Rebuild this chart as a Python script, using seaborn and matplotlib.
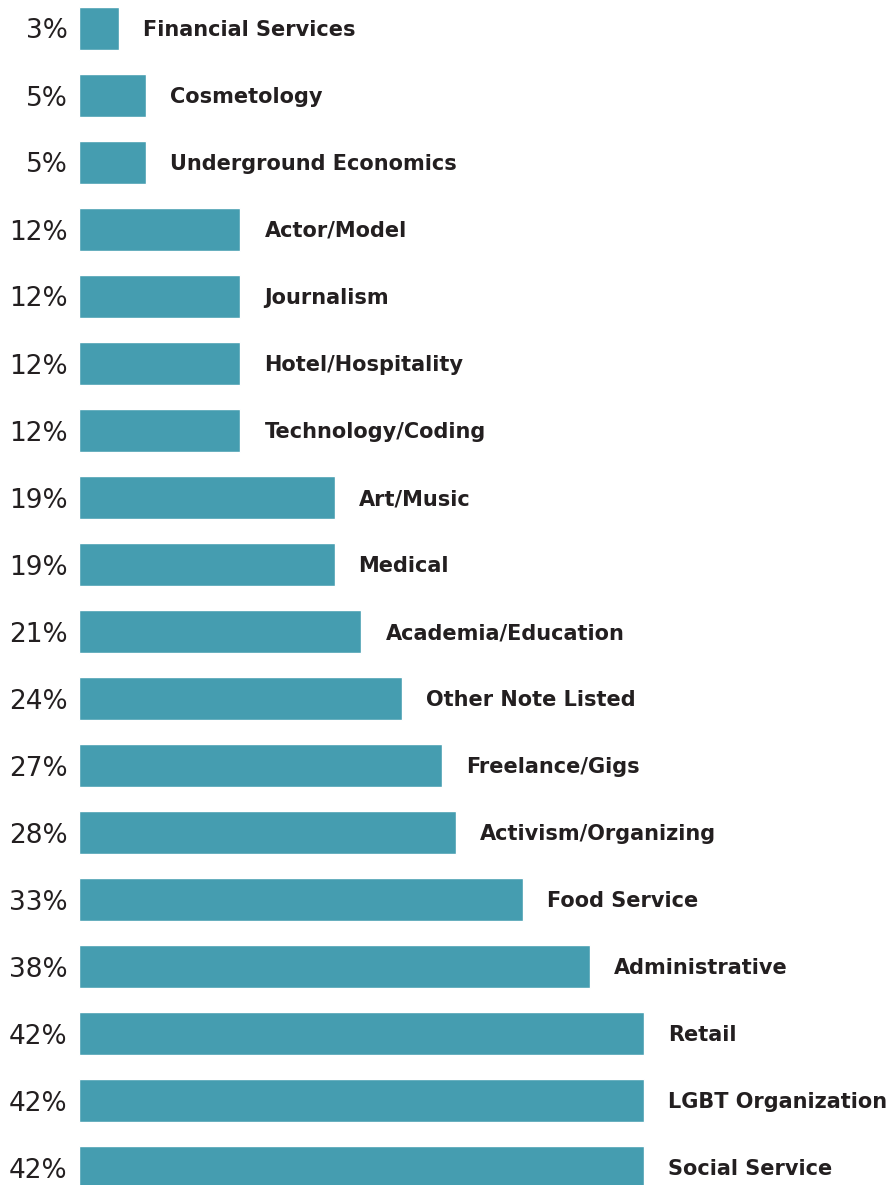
import matplotlib
matplotlib.use("Agg")
import matplotlib.pyplot as plt
import seaborn as sns
import pandas as pd

categories = [
    "Financial Services", "Cosmetology", "Underground Economics", "Actor/Model",
    "Journalism", "Hotel/Hospitality", "Technology/Coding", "Art/Music", "Medical",
    "Academia/Education", "Other Note Listed", "Freelance/Gigs", "Activism/Organizing",
    "Food Service", "Administrative", "Retail", "LGBT Organization", "Social Service",
]
values = [3, 5, 5, 12, 12, 12, 12, 19, 19, 21, 24, 27, 28, 33, 38, 42, 42, 42]

BAR_COLOR = "#459db0"
TEXT_COLOR = "#231f20"

sns.set_theme(style="white")
plt.rcParams["font.family"] = ["DejaVu Sans"]

df = pd.DataFrame({"category": categories, "value": values})

W, H = 887, 1185
fig = plt.figure(figsize=(W / 100, H / 100), dpi=100)
left = 79 / W
ax = fig.add_axes([left, 0, 1 - left, 1])

sns.barplot(data=df, y="category", x="value", orient="h", color=BAR_COLOR,
            saturation=1, width=43 / 67, ax=ax, order=categories)

px_per_unit = 13.45
ax.set_xlim(0, (W - 79) / px_per_unit)
ax.set_ylim((H - 28.5) / 67, -28.5 / 67)
ax.axis("off")

pt = 0.72  # points per pixel at 100 dpi
for i, (c, v) in enumerate(zip(categories, values)):
    ax.annotate(f"{v}%", xy=(0, i), xytext=(-11.5 * pt, -10 * pt), textcoords="offset points",
                ha="right", va="baseline", fontsize=19, color=TEXT_COLOR,
                annotation_clip=False)
    ax.annotate(c, xy=(v, i), xytext=(24 * pt, -7.5 * pt), textcoords="offset points",
                ha="left", va="baseline", fontsize=15, fontweight="bold",
                color=TEXT_COLOR, annotation_clip=False)

fig.savefig("out.png", dpi=100, facecolor="white")
